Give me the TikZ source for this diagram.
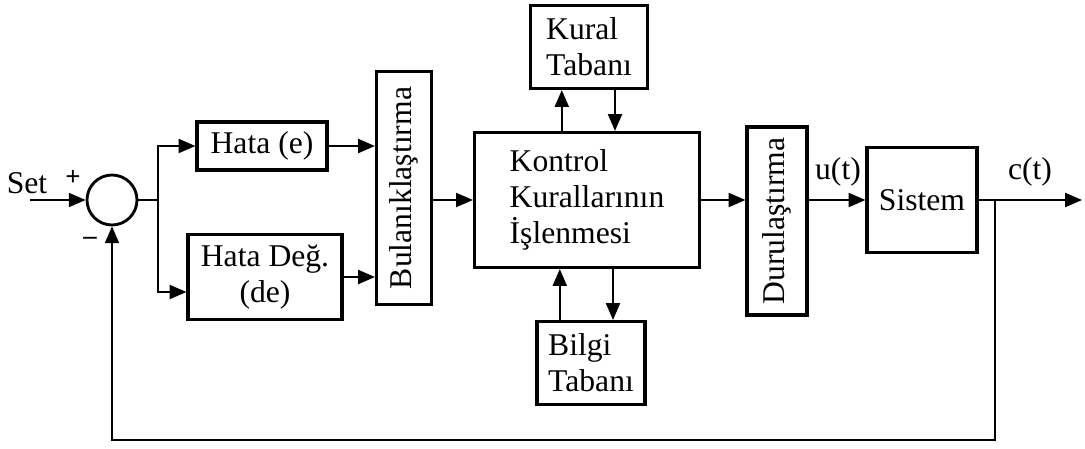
\documentclass[tikz,border=0pt]{standalone}
\usepackage{fontspec}
\setmainfont{Liberation Serif}
\usepackage{graphicx}
\usetikzlibrary{arrows.meta}

\begin{document}
\begin{tikzpicture}[x=0.025cm,y=-0.025cm,
		font=\fontsize{22.5}{25.5}\selectfont,
		block/.style={draw,line width=2.2pt,inner sep=2pt},
		sumnode/.style={draw,circle,line width=2pt,minimum size=1.25cm,inner sep=0},
		sig/.style={line width=1.4pt},
		->/.style={sig,-{Triangle[length=0.42cm,width=0.35cm]}},
		signlabel/.style={font=\fontsize{19}{19}\bfseries\selectfont,inner sep=0}]
		\useasboundingbox (0,0) rectangle (1085,448);

		\node[sumnode] (sum) at (112,200) {};
		\node[block,minimum width=3.25cm,minimum height=1.2cm] (hata) at (262,146) {Hata (e)};
		\node[block,minimum width=3.85cm,minimum height=2.125cm,align=center] (hatadeg) at (265,277) {Hata Değ.\\(de)};
		\node[block,minimum width=1.375cm,minimum height=5.825cm] (bulanik) at (404,188) {\rotatebox{90}{Bulanıklaştırma}};
		\node[block,minimum width=5.625cm,minimum height=3.375cm,align=left] (kontrol) at (587,200) {Kontrol\\Kurallarının\\İşlenmesi};
		\node[block,minimum width=2.925cm,minimum height=2.075cm,align=left] (kural) at (589,47) {Kural\\Tabanı};
		\node[block,minimum width=2.7cm,minimum height=2.075cm,align=left] (bilgi) at (591,363) {Bilgi\\Tabanı};
		\node[block,minimum width=1.5cm,minimum height=4.7cm] (durul) at (777,221) {\rotatebox{90}{Durulaştırma}};
		\node[block,minimum width=2.75cm,minimum height=2.625cm] (sistem) at (922,200) {Sistem};

		\node (set) at (27,183) {Set};
		\node[signlabel] (plus) at (73,178) {+};
		\node[signlabel] (minus) at (90,241) {–};
		\node (u) at (838,172) {u(t)};
		\node (c) at (1030,172) {c(t)};

		\coordinate (setin) at (30,200);
		\coordinate (br) at (158,200);
		\coordinate (tap) at (995,200);
		\coordinate (out) at (1082,200);
		\coordinate (bot) at (0,440);
		\coordinate (kup) at ([xshift=-0.63cm]kontrol.north);
		\coordinate (kdown) at ([xshift=0.7cm]kontrol.north);
		\coordinate (bup) at ([xshift=-0.68cm]kontrol.south);
		\coordinate (bdown) at ([xshift=0.65cm]kontrol.south);

		\draw [->] (setin) -- (sum);
		\draw [sig] (sum) -- (br);
		\draw [->] (br) |- (hata);
		\draw [->] (br) |- ([yshift=-0.375cm]hatadeg.west);
		\draw [->] (hata) -- (hata -| bulanik.west);
		\draw [->] (hatadeg) -- (hatadeg -| bulanik.west);
		\draw [->] (kontrol -| bulanik.east) -- (kontrol);
		\draw [->] (kup) -- (kup |- kural.south);
		\draw [->] (kdown |- kural.south) -- (kdown);
		\draw [->] (bup |- bilgi.north) -- (bup);
		\draw [->] (bdown) -- (bdown |- bilgi.north);
		\draw [->] (kontrol) -- (kontrol -| durul.west);
		\draw [->] (sistem -| durul.east) -- (sistem);
		\draw [->] (sistem) -- (out);
		\draw [->] (tap) |- (bot -| sum) -- (sum);
	\end{tikzpicture}
\end{document}
